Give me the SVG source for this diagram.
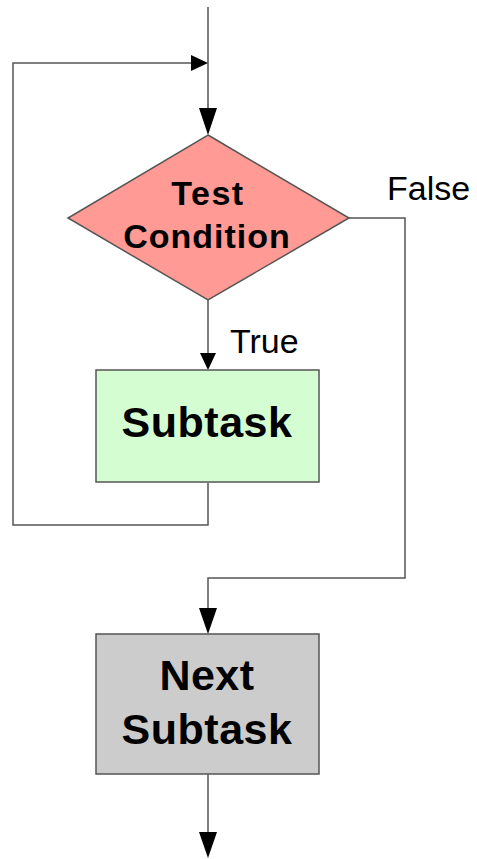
<svg xmlns="http://www.w3.org/2000/svg" width="477" height="859" viewBox="0 0 477 859">
<style>
.ln{fill:none;stroke:#555;stroke-width:1.5}
.ah{fill:#000}
.b{font-family:"Liberation Sans",Arial,sans-serif;font-weight:bold;fill:#000;text-anchor:middle}
.l{font-family:"Liberation Sans",Arial,sans-serif;fill:#000}
</style>
<rect width="477" height="859" fill="#fff"/>
<g id="connectors">
<path class="ln" d="M208,7 V120"/>
<polygon class="ah" points="199,108 217,108 208,135"/>
<path class="ln" d="M208,483 V525 H13 V63 H195"/>
<polygon class="ah" points="191,55 191,71 208,63"/>
<path class="ln" d="M208,300 V355"/>
<polygon class="ah" points="200,353 216,353 208,370"/>
<path class="ln" d="M349,218 H405 V578 H208 V620"/>
<polygon class="ah" points="199,608 217,608 208,634"/>
<path class="ln" d="M208,774 V840"/>
<polygon class="ah" points="199,832 217,832 208,858"/>
</g>
<g id="test">
<polygon points="208,135 349,218 208,300 68,218" fill="#ff9a95" stroke="#555" stroke-width="1.5"/>
<text class="b" x="208" y="205" font-size="34" letter-spacing="1.5">Test</text>
<text class="b" x="207" y="248" font-size="34" letter-spacing="1">Condition</text>
</g>
<g id="subtask">
<rect x="96" y="370" width="223" height="112" fill="#d5fdd2" stroke="#555" stroke-width="1.5"/>
<text class="b" x="207" y="437" font-size="43" letter-spacing="0.5">Subtask</text>
</g>
<g id="next">
<rect x="96" y="634" width="223" height="140" fill="#cccccc" stroke="#555" stroke-width="1.5"/>
<text class="b" x="207" y="690" font-size="43" letter-spacing="0.5">Next</text>
<text class="b" x="207" y="744" font-size="43" letter-spacing="0.5">Subtask</text>
</g>
<g id="labels">
<text class="l" x="387" y="200" font-size="34">False</text>
<text class="l" x="230" y="353" font-size="34">True</text>
</g>
</svg>
